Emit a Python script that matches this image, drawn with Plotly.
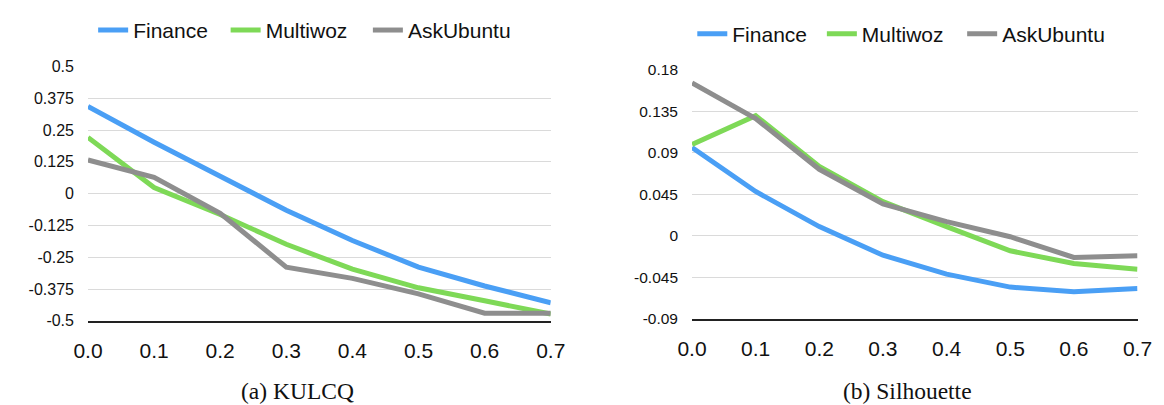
import plotly.graph_objects as go

# ---- data ----
x_vals = [0.0, 0.1, 0.2, 0.3, 0.4, 0.5, 0.6, 0.7]
x_ticktext = ["0.0", "0.1", "0.2", "0.3", "0.4", "0.5", "0.6", "0.7"]

# (a) KULCQ
kulcq_finance = [0.343, 0.202, 0.068, -0.065, -0.184, -0.289, -0.363, -0.429]
kulcq_multiwoz = [0.221, 0.024, -0.082, -0.199, -0.297, -0.370, -0.421, -0.473]
kulcq_askubuntu = [0.132, 0.064, -0.077, -0.289, -0.333, -0.394, -0.470, -0.470]
kulcq_ticks = [0.5, 0.375, 0.25, 0.125, 0, -0.125, -0.25, -0.375, -0.5]
kulcq_ticktext = ["0.5", "0.375", "0.25", "0.125", "0", "-0.125", "-0.25", "-0.375", "-0.5"]

# (b) Silhouette
sil_finance = [0.0956, 0.048, 0.010, -0.021, -0.0415, -0.0555, -0.0605, -0.057]
sil_multiwoz = [0.099, 0.130, 0.075, 0.037, 0.010, -0.0162, -0.030, -0.0363]
sil_askubuntu = [0.1655, 0.127, 0.072, 0.0346, 0.0153, -0.001, -0.0234, -0.0217]
sil_ticks = [0.18, 0.135, 0.09, 0.045, 0, -0.045, -0.09]
sil_ticktext = ["0.18", "0.135", "0.09", "0.045", "0", "-0.045", "-0.09"]

series_names = ["Finance", "Multiwoz", "AskUbuntu"]
colors = ["#4A9FF5", "#7ED957", "#8E8E8E"]

FONT = "Liberation Sans, Arial, Helvetica, sans-serif"
SERIF = "Liberation Serif, Times New Roman, serif"
TXT = "#111111"

W, H = 1164, 405

# legend text start positions (px) for each panel
left_legend_text_x = [114, 250, 396]
right_legend_text_x = [729, 862, 1006]

fig = go.Figure()

left = [kulcq_finance, kulcq_multiwoz, kulcq_askubuntu]
right = [sil_finance, sil_multiwoz, sil_askubuntu]

legend_layout = {}
idx = 1
for panel, (data, xa, ya, text_x, ly) in enumerate([
    (left, "x", "y", left_legend_text_x, 14),
    (right, "x2", "y2", right_legend_text_x, 18),
]):
    for name, col, ys, tx in zip(series_names, colors, data, text_x):
        lg = "legend" if idx == 1 else f"legend{idx}"
        fig.add_trace(go.Scatter(
            x=x_vals, y=ys, name=name, mode="lines",
            line=dict(color=col, width=5), xaxis=xa, yaxis=ya,
            legend=lg, cliponaxis=False, showlegend=True,
        ))
        legend_layout[lg] = dict(
            orientation="h", xanchor="left", yanchor="middle",
            x=(tx - 42) / W, y=1 - ly / H, visible=True,
            font=dict(family=FONT, size=21, color=TXT), bgcolor="rgba(0,0,0,0)",
        )
        idx += 1


def xdom(a, b):
    return [a / W, b / W]


def ydom(top, bottom):
    return [1 - bottom / H, 1 - top / H]


xaxis_common = dict(
    range=[0, 0.7], tickvals=x_vals, ticktext=x_ticktext,
    showgrid=False, zeroline=False, showline=True, linecolor="#222222",
    linewidth=1.5, ticks="", tickfont=dict(family=FONT, size=21, color=TXT),
    ticklabelstandoff=10, fixedrange=True,
)
yaxis_common = dict(
    showgrid=True, gridcolor="#DADADA", gridwidth=1, zeroline=False,
    showline=False, ticks="", ticklabelstandoff=13, fixedrange=True,
)

fig.update_layout(
    width=W, height=H,
    margin=dict(l=0, r=0, t=0, b=0),
    showlegend=True,
    paper_bgcolor="white", plot_bgcolor="white",
    font=dict(family=FONT, color=TXT),
    xaxis=dict(domain=xdom(66.7, 541.7), anchor="y", **xaxis_common),
    yaxis=dict(domain=ydom(51.7, 318), anchor="x", range=[-0.5, 0.5],
               tickvals=kulcq_ticks, ticktext=kulcq_ticktext,
               tickfont=dict(family=FONT, size=16, color=TXT), **yaxis_common),
    xaxis2=dict(domain=xdom(686.7, 1144), anchor="y2", **xaxis_common),
    yaxis2=dict(domain=ydom(55, 316), anchor="x2", range=[-0.09, 0.18],
                tickvals=sil_ticks, ticktext=sil_ticktext,
                tickfont=dict(family=FONT, size=15.5, color=TXT), **yaxis_common),
    annotations=[
        dict(text="(a) KULCQ", xref="paper", yref="paper", x=282 / W, y=1 - 391 / H,
             showarrow=False, xanchor="center", yanchor="middle",
             font=dict(family=SERIF, size=23.5, color=TXT)),
        dict(text="(b) Silhouette", xref="paper", yref="paper", x=908 / W, y=1 - 391 / H,
             showarrow=False, xanchor="center", yanchor="middle",
             font=dict(family=SERIF, size=23.5, color=TXT)),
    ],
    **legend_layout,
)

fig.write_html("out.html")
